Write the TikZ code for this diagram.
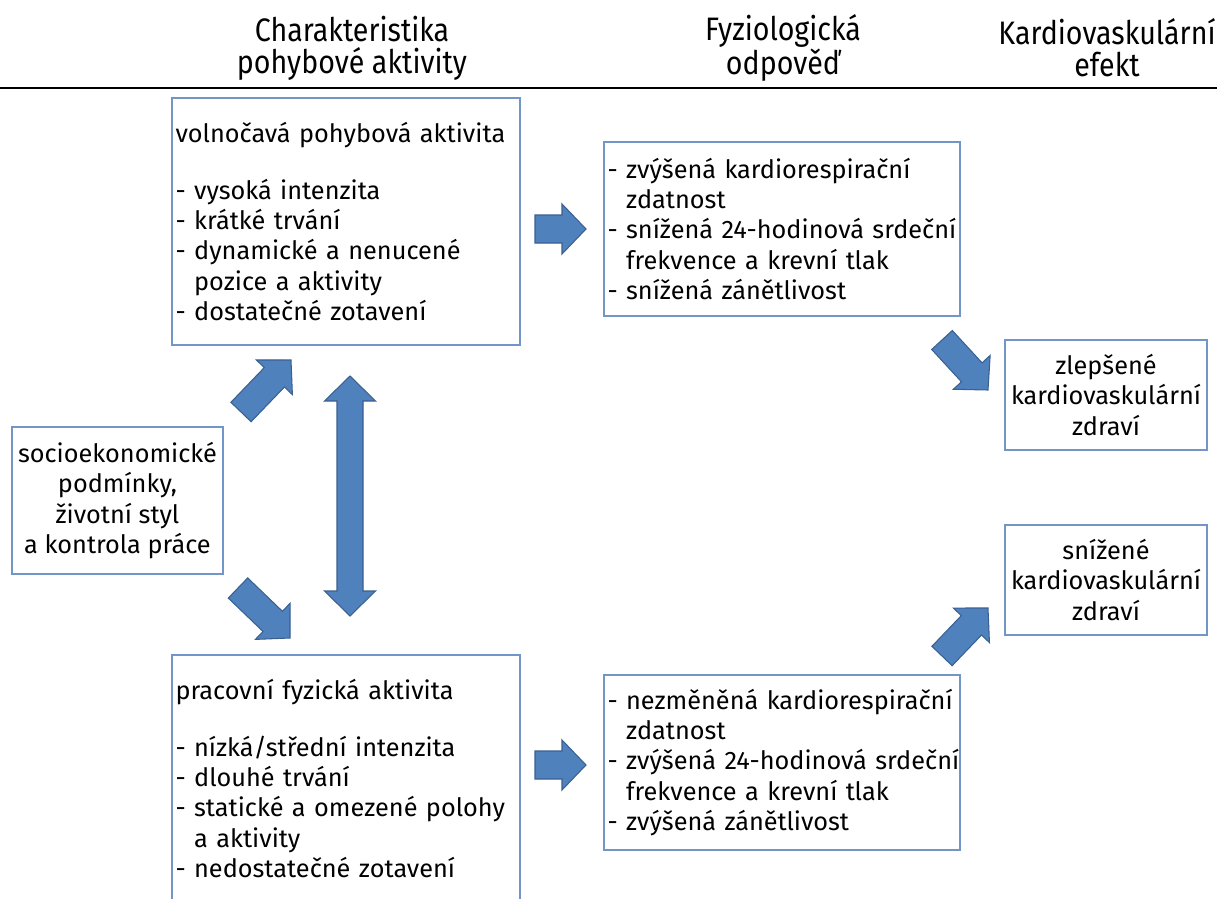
\documentclass[tikz,border=0pt]{standalone}
\usepackage{fontspec}
\setmainfont{Fira Sans}
\newfontfamily\hdrfont[FakeStretch=0.88]{Fira Sans}
\usetikzlibrary{calc}
\definecolor{boxblue}{RGB}{114,150,200}
\definecolor{arrowblue}{RGB}{79,129,189}
\definecolor{arrowedge}{RGB}{58,96,145}
\newcommand{\bulind}{\phantom{- }}

\begin{document}
\begin{tikzpicture}[x=0.02cm,y=-0.02cm,
  box/.style={draw=boxblue,line width=0.8pt,inner sep=2pt,font=\fontsize{14.4}{17.3}\selectfont},
  listbox/.style={box,align=left},
  midbox/.style={box,align=center},
  hdr/.style={align=center,font=\hdrfont\fontsize{18.5}{18.3}\selectfont},
  blockarr/.style={fill=arrowblue,draw=arrowedge,line width=0.6pt,line join=miter,
    to path={($(\tikztostart)!0.28cm!90:(\tikztotarget)$)
      -- ($(\tikztotarget)!0.48cm!(\tikztostart)!0.28cm!-90:(\tikztostart)$)
      -- ($(\tikztotarget)!0.48cm!(\tikztostart)!0.5cm!-90:(\tikztostart)$)
      -- (\tikztotarget)
      -- ($(\tikztotarget)!0.48cm!(\tikztostart)!0.5cm!90:(\tikztostart)$)
      -- ($(\tikztotarget)!0.48cm!(\tikztostart)!0.28cm!90:(\tikztostart)$)
      -- ($(\tikztostart)!0.28cm!-90:(\tikztotarget)$) -- cycle}},
  dblarr/.style={fill=arrowblue,draw=arrowedge,line width=0.6pt,line join=miter,
    to path={(\tikztostart)
      -- ($(\tikztostart)!0.5cm!(\tikztotarget)!0.51cm!90:(\tikztotarget)$)
      -- ($(\tikztostart)!0.5cm!(\tikztotarget)!0.26cm!90:(\tikztotarget)$)
      -- ($(\tikztotarget)!0.5cm!(\tikztostart)!0.26cm!-90:(\tikztostart)$)
      -- ($(\tikztotarget)!0.5cm!(\tikztostart)!0.51cm!-90:(\tikztostart)$)
      -- (\tikztotarget)
      -- ($(\tikztotarget)!0.5cm!(\tikztostart)!0.51cm!90:(\tikztostart)$)
      -- ($(\tikztotarget)!0.5cm!(\tikztostart)!0.26cm!90:(\tikztostart)$)
      -- ($(\tikztostart)!0.5cm!(\tikztotarget)!0.26cm!-90:(\tikztotarget)$)
      -- ($(\tikztostart)!0.5cm!(\tikztotarget)!0.51cm!-90:(\tikztotarget)$)
      -- cycle}}]
\clip (0,0) rectangle (1217,899);
\fill[white] (0,0) rectangle (1217,899);

\node[hdr] (hdrchar) at (352,48) {Charakteristika\\pohybové aktivity};
\node[hdr] (hdrfyz) at (783,48) {Fyziologická\\odpověď};
\node[hdr] (hdrkard) at (1107,48) {Kardiovaskulární\\efekt};
\draw[line width=1.1pt] (0,88) -- (1217,88);

\node[listbox,minimum width=6.96cm,minimum height=4.94cm,text width=6.82cm] (volno) at (346,221.5)
  {volnočavá pohybová aktivita\\[15pt]
   - vysoká intenzita\\
   - krátké trvání\\
   - dynamické a nenucené\\
   \bulind pozice a aktivity\\
   - dostatečné zotavení};
\node[listbox,minimum width=6.96cm,minimum height=4.94cm,text width=6.82cm] (prac) at (346,778.5)
  {pracovní fyzická aktivita\\[15pt]
   - nízká/střední intenzita\\
   - dlouhé trvání\\
   - statické a omezené polohy\\
   \bulind a aktivity\\
   - nedostatečné zotavení};
\node[midbox,minimum width=4.22cm,minimum height=2.94cm] (socio) at (117.5,500.5)
  {socioekonomické\\podmínky,\\životní styl\\a kontrola práce};
\node[listbox,minimum width=7.12cm,minimum height=3.48cm,text width=6.98cm] (fyzlep) at (782,229)
  {- zvýšená kardiorespirační\\
   \bulind zdatnost\\
   \mbox{- snížená 24-hodinová srdeční}\\
   \bulind frekvence a krevní tlak\\
   - snížená zánětlivost};
\node[listbox,minimum width=7.12cm,minimum height=3.5cm,text width=6.98cm] (fyhor) at (782,762.5)
  {- nezměněná kardiorespirační\\
   \bulind zdatnost\\
   \mbox{- zvýšená 24-hodinová srdeční}\\
   \bulind frekvence a krevní tlak\\
   - zvýšená zánětlivost};
\node[midbox,minimum width=4.04cm,minimum height=2.2cm] (zlepsene) at (1106,395)
  {zlepšené\\kardiovaskulární\\zdraví};
\node[midbox,minimum width=4.04cm,minimum height=2.2cm] (snizene) at (1106,580)
  {snížené\\kardiovaskulární\\zdraví};

\coordinate (a1s) at (535,229);  \coordinate (a1t) at (586,229);
\coordinate (a2s) at (535,765);  \coordinate (a2t) at (586,765);
\coordinate (a3s) at (241,412);  \coordinate (a3t) at (291,360);
\coordinate (a4s) at (238,588);  \coordinate (a4t) at (290,638);
\coordinate (a5s) at (942,340);  \coordinate (a5t) at (988,390);
\coordinate (a6s) at (942,656);  \coordinate (a6t) at (988,608);
\coordinate (d1) at (350,376);   \coordinate (d2) at (350,616);

\draw[blockarr] (a1s) to (a1t);
\draw[blockarr] (a2s) to (a2t);
\draw[blockarr] (a3s) to (a3t);
\draw[blockarr] (a4s) to (a4t);
\draw[blockarr] (a5s) to (a5t);
\draw[blockarr] (a6s) to (a6t);
\draw[dblarr] (d1) to (d2);
\end{tikzpicture}
\end{document}
